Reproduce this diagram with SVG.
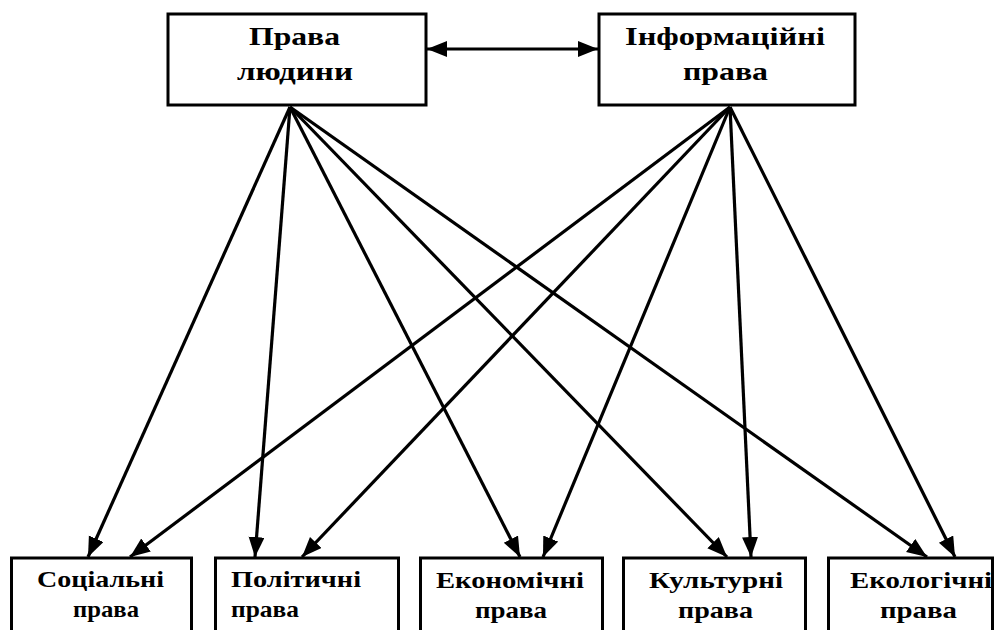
<svg xmlns="http://www.w3.org/2000/svg" width="1004" height="630" viewBox="0 0 1004 630">
<style>
.box{fill:#fff;stroke:#000;stroke-width:3}
.t{font-family:'Liberation Serif','Times New Roman','DejaVu Serif',serif;font-weight:700;fill:#000}
.top{font-size:26px}
.bot{font-size:23px}
.c{stroke:#000;stroke-width:3.2;fill:none;marker-end:url(#ah)}
</style>
<defs>
<marker id="ah" markerUnits="userSpaceOnUse" markerWidth="22" markerHeight="18" refX="20" refY="8" orient="auto-start-reverse">
<path d="M0,0 L20,8 L0,16 z" fill="#000"/>
</marker>
</defs>
<rect width="1004" height="630" fill="#fff"/>
<g id="connectors">
<line class="c" x1="427" y1="49" x2="598" y2="49" style="marker-start:url(#ah)"/>
<line class="c" x1="290" y1="107" x2="88" y2="557"/>
<line class="c" x1="290" y1="107" x2="255" y2="557"/>
<line class="c" x1="290" y1="107" x2="520" y2="557"/>
<line class="c" x1="290" y1="107" x2="727" y2="557"/>
<line class="c" x1="290" y1="107" x2="927" y2="557"/>
<line class="c" x1="730" y1="107" x2="130" y2="557"/>
<line class="c" x1="730" y1="107" x2="302" y2="557"/>
<line class="c" x1="730" y1="107" x2="543" y2="557"/>
<line class="c" x1="730" y1="107" x2="751" y2="557"/>
<line class="c" x1="730" y1="107" x2="955" y2="557"/>
</g>
<g id="human-rights">
<rect class="box" x="168" y="14" width="258" height="91"/>
<text class="t top" font-family="Liberation Serif, serif" x="249" y="45" textLength="91" lengthAdjust="spacingAndGlyphs">Права</text>
<text class="t top" font-family="Liberation Serif, serif" x="237" y="80" textLength="116" lengthAdjust="spacingAndGlyphs">людини</text>
</g>
<g id="info-rights">
<rect class="box" x="599" y="14" width="256" height="91"/>
<text class="t top" font-family="Liberation Serif, serif" x="625" y="45" textLength="200" lengthAdjust="spacingAndGlyphs">Інформаційні</text>
<text class="t top" font-family="Liberation Serif, serif" x="683" y="80" textLength="85" lengthAdjust="spacingAndGlyphs">права</text>
</g>
<g id="social">
<rect class="box" x="11.5" y="558" width="180" height="90"/>
<text class="t bot" font-family="Liberation Serif, serif" x="37" y="587" textLength="127" lengthAdjust="spacingAndGlyphs">Соціальні</text>
<text class="t bot" font-family="Liberation Serif, serif" x="73" y="617" textLength="66" lengthAdjust="spacingAndGlyphs">права</text>
</g>
<g id="political">
<rect class="box" x="215.5" y="558" width="183" height="90"/>
<text class="t bot" font-family="Liberation Serif, serif" x="231" y="587" textLength="130" lengthAdjust="spacingAndGlyphs">Політичні</text>
<text class="t bot" font-family="Liberation Serif, serif" x="231" y="617" textLength="68" lengthAdjust="spacingAndGlyphs">права</text>
</g>
<g id="economic">
<rect class="box" x="420.5" y="558" width="182" height="90"/>
<text class="t bot" font-family="Liberation Serif, serif" x="436" y="588" textLength="148" lengthAdjust="spacingAndGlyphs">Економічні</text>
<text class="t bot" font-family="Liberation Serif, serif" x="475" y="618" textLength="72" lengthAdjust="spacingAndGlyphs">права</text>
</g>
<g id="cultural">
<rect class="box" x="623.5" y="558" width="182" height="90"/>
<text class="t bot" font-family="Liberation Serif, serif" x="649" y="588" textLength="134" lengthAdjust="spacingAndGlyphs">Культурні</text>
<text class="t bot" font-family="Liberation Serif, serif" x="678" y="618" textLength="75" lengthAdjust="spacingAndGlyphs">права</text>
</g>
<g id="ecological">
<rect class="box" x="828.5" y="558" width="164" height="90"/>
<text class="t bot" font-family="Liberation Serif, serif" x="850" y="588" textLength="142" lengthAdjust="spacingAndGlyphs">Екологічні</text>
<text class="t bot" font-family="Liberation Serif, serif" x="880" y="618" textLength="77" lengthAdjust="spacingAndGlyphs">права</text>
</g>
</svg>
